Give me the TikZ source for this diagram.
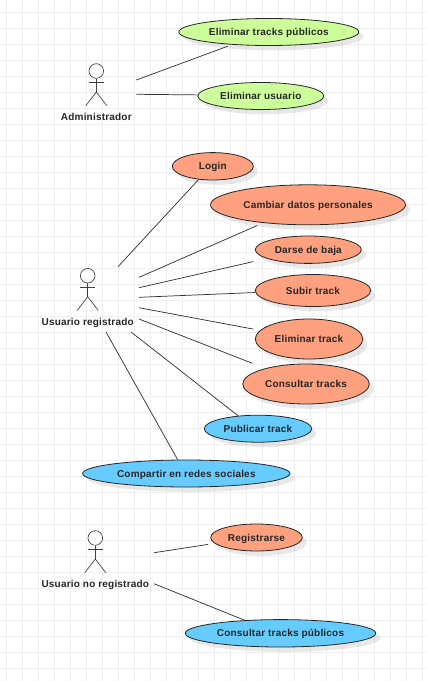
\documentclass[tikz,border=0pt]{standalone}
\usepackage{fontspec}
\setmainfont{Liberation Sans}[LetterSpace=2]
\usepackage{xcolor}
\usetikzlibrary{calc, shapes.geometric, shadows}
\definecolor{adminfill}{HTML}{CCFF99}
\definecolor{userfill}{HTML}{FFA07F}
\definecolor{sharefill}{HTML}{66CCFF}
\definecolor{gridline}{HTML}{EFF1F1}
\tikzset{
    usecase/.style={
        ellipse, draw=black!85!white, line width=0.6pt, inner sep=0pt,
        minimum width=2*#1*0.75pt, text depth=0pt, font=\bfseries\fontsize{7.5}{9}\selectfont, text=black!85!white,
        drop shadow={shadow xshift=3.4pt, shadow yshift=-3.6pt, fill=black, opacity=0.09}
    },
    actorlabel/.style={font=\bfseries\fontsize{7.5}{9}\selectfont, text=black!85!white, inner sep=0pt, text depth=0pt},
    assoc/.style={draw=black!80!white, line width=0.55pt},
    stick/.style={draw=black!75!white, line width=0.5pt}
}

% one stick figure, #1 = name, #2 = x, #3 = y of the head
\newcommand{\actorfig}[3]{
    \node[stick, circle, minimum size=14.6*0.75pt, inner sep=0pt, fill=white] (#1head) at (#2, #3) {};
    \coordinate (#1arml) at (#2-7.4, #3+11.8);
    \coordinate (#1armr) at (#2+7.4, #3+11.8);
    \coordinate (#1hip) at (#2, #3+21);
    \coordinate (#1footl) at (#2-10.5, #3+34.7);
    \coordinate (#1footr) at (#2+10.5, #3+34.7);
    \draw[stick] (#1head) -- (#1hip);
    \draw[stick] (#1arml) -- (#1armr);
    \draw[stick] (#1footl) -- (#1hip) -- (#1footr);
}

\begin{document}
\begin{tikzpicture}[x=0.75pt, y=-0.75pt]
    \useasboundingbox (0, 0) rectangle (426, 681);
    \fill[white] (0, 0) rectangle (426, 681);

    % background grid
    \foreach \i in {0,...,26} {
        \draw[gridline, line width=0.5pt] (6.6+16*\i, 0) -- (6.6+16*\i, 681);
    }
    \foreach \i in {0,...,42} {
        \draw[gridline, line width=0.5pt] (0, 12.4+16*\i) -- (426, 12.4+16*\i);
    }

    % actors
    \actorfig{adm}{96.3}{71}
    \actorfig{reg}{87.7}{275.7}
    \actorfig{nor}{95.3}{538}
    \node[actorlabel] (admlabel) at (96.3, 116.7) {Administrador};
    \node[actorlabel] (reglabel) at (87.7, 321.7) {Usuario registrado};
    \node[actorlabel] (norlabel) at (95.3, 583.7) {Usuario no registrado};

    % use cases
    \node[usecase=90, fill=adminfill, minimum height=27*0.75pt] (tracksadm) at (268.8, 32) {Eliminar tracks públicos};
    \node[usecase=63, fill=adminfill, minimum height=27*0.75pt] (deluser) at (260.8, 96) {Eliminar usuario};
    \node[usecase=40.5, fill=userfill, minimum height=27.4*0.75pt] (login) at (212.8, 166.3) {Login};
    \node[usecase=97.5, fill=userfill, minimum height=40*0.75pt] (datos) at (308, 204.8) {Cambiar datos personales};
    \node[usecase=53, fill=userfill, minimum height=27.4*0.75pt] (baja) at (308.3, 249.7) {Darse de baja};
    \node[usecase=57.7, fill=userfill, minimum height=32*0.75pt] (subir) at (313, 290.5) {Subir track};
    \node[usecase=53.7, fill=userfill, minimum height=40*0.75pt] (deltrack) at (309, 339) {Eliminar track};
    \node[usecase=63.3, fill=userfill, minimum height=40*0.75pt] (consulta) at (306, 384) {Consultar tracks};
    \node[usecase=53.7, fill=sharefill, minimum height=27*0.75pt] (publicar) at (258, 428.7) {Publicar track};
    \node[usecase=103.7, fill=sharefill, minimum height=27*0.75pt] (compartir) at (186.3, 473.5) {Compartir en redes sociales};
    \node[usecase=45.8, fill=userfill, minimum height=27*0.75pt] (registro) at (256.5, 537.5) {Registrarse};
    \node[usecase=95.2, fill=sharefill, minimum height=27.4*0.75pt] (publicos) at (280.5, 633.3) {Consultar tracks públicos};

    % free ends next to the actors
    \coordinate (adma) at (136.3, 80);
    \coordinate (admb) at (136.3, 94.3);
    \coordinate (rega) at (118, 266.7);
    \coordinate (regb) at (139, 277.3);
    \coordinate (regc) at (139, 287.7);
    \coordinate (regd) at (139, 297.3);
    \coordinate (rege) at (139, 307.7);
    \coordinate (regf) at (139, 319);
    \coordinate (regg) at (131, 332);
    \coordinate (regh) at (106, 332);
    \coordinate (nora) at (154, 552.7);
    \coordinate (norb) at (154, 583.7);

    \draw[assoc, shorten >=3.4pt] (adma) -- (tracksadm.199.1);
    \draw[assoc] (admb) -- (deluser.179);
    \draw[assoc] (rega) -- (login.223);
    \draw[assoc, shorten >=4.9pt] (regb) -- (datos.202.5);
    \draw[assoc, shorten >=10.3pt] (regc) -- (baja.192.7);
    \draw[assoc] (regd) -- (subir.182);
    \draw[assoc, shorten >=5pt] (rege) -- (deltrack.170.6);
    \draw[assoc, shorten >=10.2pt] (regf) -- (consulta.159.4);
    \draw[assoc] (regg) -- (publicar.147.1);
    \draw[assoc] (regh) -- (compartir.122.6);
    \draw[assoc, shorten >=4.9pt] (nora) -- (registro.188.9);
    \draw[assoc] (norb) -- (publicos.160.9);
\end{tikzpicture}
\end{document}
